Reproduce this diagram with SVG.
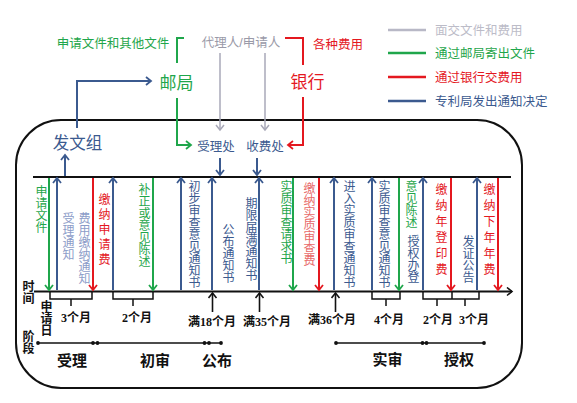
<svg xmlns="http://www.w3.org/2000/svg" width="577" height="403" viewBox="0 0 577 403">
<style>
.t{font-family:"Liberation Sans","Noto Sans CJK SC",sans-serif;}
.v{font-family:"Liberation Sans","Noto Sans CJK SC",sans-serif;writing-mode:vertical-rl;font-size:12px;}
.b{font-family:"Liberation Serif","Noto Sans CJK SC",serif;font-weight:bold;fill:#111;}
.g{fill:#1fa64b;} .r{fill:#e4181f;} .bl{fill:#3b5a8f;} .gy{fill:#9a9aa8;} .lb{fill:#8c9cc8;} .lr{fill:#e86a6a;}
.sg{stroke:#1fa64b;} .sr{stroke:#e4181f;} .sb{stroke:#3b5a8f;} .sy{stroke:#a8a8b8;} .sk{stroke:#111;}
.ln{fill:none;stroke-width:2;}
</style>
<defs>
<marker id="ag" markerUnits="userSpaceOnUse" markerWidth="10" markerHeight="10" refX="6" refY="5" orient="auto"><path d="M1,1 L6,5 L1,9" fill="none" stroke="#1fa64b" stroke-width="1.8"/></marker>
<marker id="ar" markerUnits="userSpaceOnUse" markerWidth="10" markerHeight="10" refX="6" refY="5" orient="auto"><path d="M1,1 L6,5 L1,9" fill="none" stroke="#e4181f" stroke-width="1.8"/></marker>
<marker id="ab" markerUnits="userSpaceOnUse" markerWidth="10" markerHeight="10" refX="6" refY="5" orient="auto"><path d="M1,1 L6,5 L1,9" fill="none" stroke="#3b5a8f" stroke-width="1.8"/></marker>
<marker id="ay" markerUnits="userSpaceOnUse" markerWidth="10" markerHeight="10" refX="6" refY="5" orient="auto"><path d="M1,1 L6,5 L1,9" fill="none" stroke="#a8a8b8" stroke-width="1.5"/></marker>
<marker id="ak" markerUnits="userSpaceOnUse" markerWidth="10" markerHeight="10" refX="6" refY="5" orient="auto"><path d="M1,1 L6,5 L1,9" fill="none" stroke="#111" stroke-width="1.6"/></marker>
</defs>
<rect width="577" height="403" fill="#fff"/>

<g id="frame"><rect x="16" y="120" width="506" height="268" rx="45" ry="45" fill="none" stroke="#111" stroke-width="2"/></g>

<g id="legend" class="t" font-size="12.5">
<line x1="388" y1="30" x2="426" y2="30" stroke="#b8b8c6" stroke-width="2.5"/>
<text x="435" y="34.5" fill="#bcbcc8">面交文件和费用</text>
<line x1="388" y1="53" x2="426" y2="53" stroke="#1fa64b" stroke-width="2.5"/>
<text x="435" y="57.5" class="g">通过邮局寄出文件</text>
<line x1="388" y1="77" x2="426" y2="77" stroke="#e4181f" stroke-width="2.5"/>
<text x="435" y="81.5" class="r">通过银行交费用</text>
<line x1="388" y1="101" x2="426" y2="101" stroke="#3b5a8f" stroke-width="2.5"/>
<text x="435" y="105.5" class="bl">专利局发出通知决定</text>
</g>

<g id="applicant" class="t"><text x="241" y="46.5" font-size="12.5" text-anchor="middle" class="gy">代理人/申请人</text></g>
<g id="docs-label" class="t"><text x="113" y="47.5" font-size="12.5" text-anchor="middle" class="g">申请文件和其他文件</text></g>
<g id="fees-label" class="t"><text x="338" y="48.5" font-size="12.5" text-anchor="middle" class="r">各种费用</text></g>
<g id="post" class="t"><text x="176.5" y="89" font-size="17" text-anchor="middle" class="g">邮局</text></g>
<g id="bank" class="t"><text x="307.5" y="88" font-size="17" text-anchor="middle" class="r">银行</text></g>
<g id="dispatch" class="t"><text x="77.5" y="149" font-size="16.5" text-anchor="middle" class="bl">发文组</text></g>
<g id="reception" class="t"><text x="216" y="150.5" font-size="12.5" text-anchor="middle" class="bl">受理处</text></g>
<g id="cashier" class="t"><text x="265" y="150.5" font-size="12.5" text-anchor="middle" class="bl">收费处</text></g>

<g id="timeline">
<line x1="33" y1="177" x2="511" y2="177" stroke="#111" stroke-width="1.8"/>
<line x1="34" y1="291.5" x2="512" y2="291.5" stroke="#111" stroke-width="1.8" marker-end="url(#ak)"/>
</g>

<g id="connectors" class="ln">
<path d="M184,38 H177 V63" class="sg"/>
<path d="M177,98 V145 H191" class="sg" marker-end="url(#ag)"/>
<path d="M285,38 H303 V65" class="sr"/>
<path d="M303,97 V145 H288" class="sr" marker-end="url(#ar)"/>
<path d="M220,53 V130" class="sy" stroke-width="1.5" marker-end="url(#ay)"/>
<path d="M265,53 V130" class="sy" stroke-width="1.5" marker-end="url(#ay)"/>
<path d="M77,128 V81 H151" class="sb" marker-end="url(#ab)"/>
<path d="M65,176 V155" class="sb" marker-end="url(#ab)"/>
<path d="M220,158 V175" class="sb" marker-end="url(#ab)"/>
<path d="M257,158 V175" class="sb" marker-end="url(#ab)"/>
<path d="M49,178 V290" class="sg" marker-end="url(#ag)"/>
<path d="M57,290 V178" class="sb" marker-end="url(#ab)"/>
<path d="M93,178 V290" class="sr" marker-end="url(#ar)"/>
<path d="M113,290 V178" class="sb" marker-end="url(#ab)"/>
<path d="M153,178 V290" class="sg" marker-end="url(#ag)"/>
<path d="M181,290 V178" class="sb" marker-end="url(#ab)"/>
<path d="M212,290 V178" class="sb" marker-end="url(#ab)"/>
<path d="M259,290 V178" class="sb" marker-end="url(#ab)"/>
<path d="M293,178 V290" class="sg" marker-end="url(#ag)"/>
<path d="M319,178 V290" class="sr" marker-end="url(#ar)"/>
<path d="M334,290 V178" class="sb" marker-end="url(#ab)"/>
<path d="M372,290 V178" class="sb" marker-end="url(#ab)"/>
<path d="M399,178 V290" class="sg" marker-end="url(#ag)"/>
<path d="M423,290 V178" class="sb" marker-end="url(#ab)"/>
<path d="M451,178 V290" class="sr" marker-end="url(#ar)"/>
<path d="M477,290 V178" class="sb" marker-end="url(#ab)"/>
<path d="M498,178 V290" class="sr" marker-end="url(#ar)"/>
<path d="M212.5,312 V293" class="sk" stroke-width="1.6" marker-end="url(#ak)"/>
<path d="M259.5,312 V293" class="sk" stroke-width="1.6" marker-end="url(#ak)"/>
<path d="M335.5,312 V293" class="sk" stroke-width="1.6" marker-end="url(#ak)"/>
<g stroke="#111" stroke-width="1.5" fill="none">
<path d="M50,292 V299 H92 V292 M71,299 V306"/>
<path d="M113,292 V299 H153 V292 M133,299 V306"/>
<path d="M372,292 V299 H400 V292 M386,299 V306"/>
<path d="M423,292 V299 H479 V292 M452,299 V292 M437,299 V306 M465,299 V306"/>
</g>
</g>

<g id="events">
<text x="40" y="185" class="v g">申请文件</text>
<text x="67" y="212" class="v lb" font-size="11">受理通知</text>
<text x="83" y="212" class="v lb" font-size="11.5">费用缴纳通知</text>
<text x="103" y="193" class="v r" font-size="13" letter-spacing="3">缴纳申请费</text>
<text x="143" y="183" class="v g">补正或意见陈述</text>
<text x="193" y="180" class="v bl">初步审查意见通知书</text>
<text x="227" y="223" class="v bl">公布通知书</text>
<text x="250" y="197" class="v bl">期限届满通知书</text>
<text x="285" y="180" class="v g" font-size="12.4">实质审查请求书</text>
<text x="308" y="182" class="v lr" font-size="12.3">缴纳实质审查费</text>
<text x="348" y="180" class="v bl" font-size="12.2">进入实质审查通知书</text>
<text x="383" y="180" class="v bl" font-size="11.8">实质审查意见通知书</text>
<text x="410" y="180" class="v g" font-size="12.5">意见陈述</text>
<text x="412" y="235" class="v bl" font-size="12.5">授权办登</text>
<text x="440" y="183" class="v r" font-size="13" letter-spacing="4">缴纳年登印费</text>
<text x="467" y="235" class="v bl">发证公告</text>
<text x="488" y="183" class="v r" font-size="13" letter-spacing="4">缴纳下年年费</text>
</g>

<g id="axis-labels">
<text x="27" y="280" class="v b" font-size="13">时间</text>
<text x="45" y="300" class="v b" font-size="12.5">申请日</text>
<text x="27" y="330" class="v b" font-size="13">阶段</text>
<g font-size="12" text-anchor="middle">
<text x="76" y="322" class="b">3个月</text>
<text x="137" y="322" class="b">2个月</text>
<text x="212" y="326" class="b">满18个月</text>
<text x="267" y="326" class="b">满35个月</text>
<text x="332" y="324" class="b">满36个月</text>
<text x="389" y="324" class="b">4个月</text>
<text x="438" y="324" class="b">2个月</text>
<text x="474" y="324" class="b">3个月</text>
</g>
</g>

<g id="stages">
<g stroke="#111" stroke-width="1.5">
<line x1="38" y1="343" x2="221" y2="343"/>
<line x1="336" y1="343" x2="484" y2="343"/>
</g>
<g fill="#111">
<circle cx="38" cy="343" r="1.9"/><circle cx="93" cy="343" r="1.9"/><circle cx="97.5" cy="343" r="1.9"/>
<circle cx="204.5" cy="343" r="1.9"/><circle cx="209" cy="343" r="1.9"/><circle cx="221" cy="343" r="1.9"/>
<circle cx="336" cy="343" r="1.9"/><circle cx="422.5" cy="343" r="1.9"/><circle cx="426.5" cy="343" r="1.9"/><circle cx="484" cy="343" r="1.9"/>
</g>
<g font-size="15" text-anchor="middle">
<text x="72" y="365.5" class="b">受理</text>
<text x="155" y="365.5" class="b">初审</text>
<text x="217" y="365.5" class="b">公布</text>
<text x="387.5" y="365" class="b">实审</text>
<text x="459" y="365" class="b">授权</text>
</g>
</g>
</svg>
